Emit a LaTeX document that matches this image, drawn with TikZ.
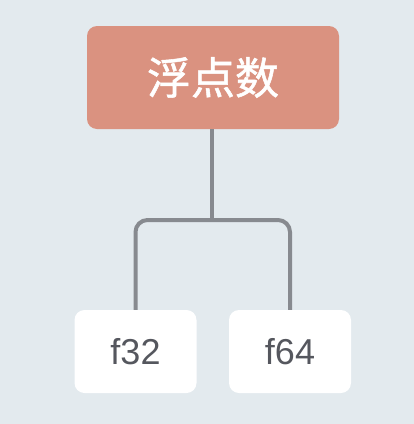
\documentclass[tikz,border=0pt]{standalone}
\usepackage{fontspec}
\setmainfont{Liberation Sans}
\newfontfamily\cjk[FakeBold=1.2]{Noto Sans CJK SC}
\definecolor{bg}{HTML}{E3EAEE}
\definecolor{rootc}{HTML}{DA9280}
\definecolor{linec}{HTML}{878A8F}
\definecolor{txt}{HTML}{55575E}
\begin{document}
\begin{tikzpicture}[x=1pt,y=-1pt,
  rootbox/.style={fill=rootc,rounded corners=10pt,minimum width=252pt,minimum height=103pt,inner sep=0pt,text=white,font=\cjk\fontsize{44}{44}\selectfont},
  leafbox/.style={fill=white,rounded corners=10pt,minimum width=122pt,minimum height=83pt,inner sep=0pt,text=txt,font=\fontsize{36}{36}\selectfont},
  conn/.style={draw=linec,line width=4pt,rounded corners=12pt}]
\fill[bg] (0,0) rectangle (414,424);
\useasboundingbox (0,0) rectangle (414,424);
\node[rootbox] (root) at (213,77.5) {浮点数};
\node[leafbox] (a) at (135.5,351.5) {f32};
\node[leafbox] (b) at (290,351.5) {f64};
\coordinate (j) at (212,220);
\draw[conn] (root.south -| j) -- (j);
\draw[conn] (a.north) -- (a.north |- j) -- (b.north |- j) -- (b.north);
\end{tikzpicture}
\end{document}
